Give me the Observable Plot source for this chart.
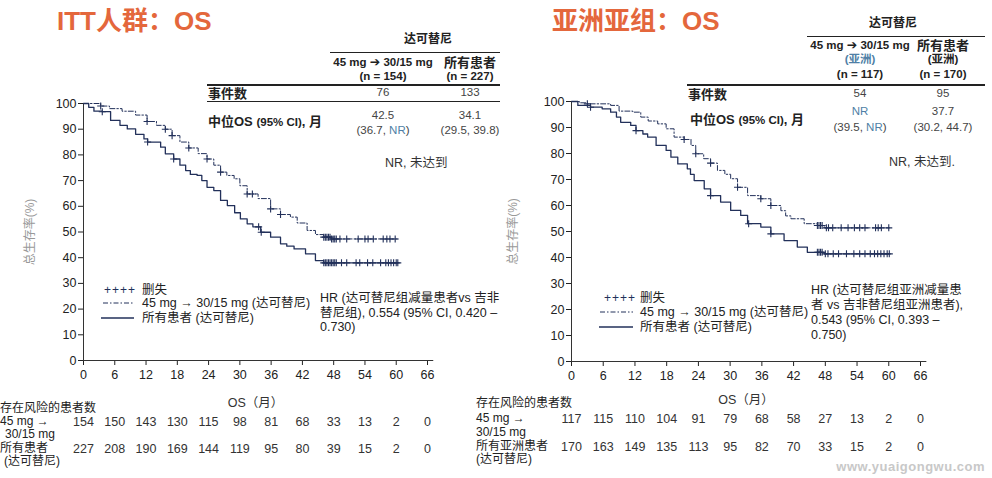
<!DOCTYPE html>
<html><head><meta charset="utf-8">
<script src="https://cdn.jsdelivr.net/npm/d3@7"></script>
<script src="https://cdn.jsdelivr.net/npm/@observablehq/plot@0.6"></script>
<style>
body{margin:0;background:#fff;}
#root{position:relative;width:992px;height:478px;overflow:hidden;font-family:"Liberation Sans",Arial,"Noto Sans CJK SC",sans-serif;color:#222;}
.t{position:absolute;white-space:nowrap;line-height:1;}
.hl{position:absolute;background:#222;}
#root svg{position:absolute;top:0;}
</style></head><body><div id="root"></div>
<script>
// ---------- data ----------
const months = [0,6,12,18,24,30,36,42,48,54,60,66];
const yTicks = [0,10,20,30,40,50,60,70,80,90,100];

// ITT population KM curves [month, survival %]
const ittDose = [[0,100],[3.3,99],[5,98],[7.4,97],[10,95.5],[12.2,93],[14,91.5],[15.7,90],[17,87.5],[18.5,85],[20.2,82.7],[22,80.5],[23.7,78.4],[25,76],[26.3,73.3],[27.5,72],[28.9,70.7],[30,68],[31.4,64.8],[33.5,63],[35.9,59],[37.8,56.8],[39.7,55.8],[41,53.5],[42.9,50.6],[44.5,49],[46.1,48],[47.5,47.3],[60.2,47.3]];
const ittAll = [[0,100],[1,98.5],[2,97],[3.6,96.8],[5.2,93.4],[7,91.5],[8.4,90.1],[10,88],[11.6,86.2],[12.3,85],[14.8,83],[15.7,80.4],[17.3,78.4],[18.5,76],[19.6,73.9],[20.5,72.4],[21.8,72],[22.7,70],[23.7,67.4],[25,66.1],[26.3,62.3],[27.6,60.3],[29,57.5],[30.1,55.1],[31.4,53.2],[32.5,52],[34,49.9],[35.9,48],[37.8,45.4],[39,44.5],[40.4,43.4],[42.6,41.5],[44.5,38.9],[46.1,38],[60.3,38]];
const ittDoseCensor = [3.3,12.2,15.7,17,20.2,23.7,26.3,31.4,32.4,35.9,37.8,46.1,46.4,46.7,47,47.3,47.6,47.9,48.2,48.5,49.2,50.5,52.7,54,54.6,55.6,57.5,58.2,58.8,59.8];
const ittAllCensor = [3.6,12.3,17.3,33.6,34.1,46.1,46.4,46.7,47,47.3,47.6,47.9,48.2,48.5,49.5,50.5,52.3,53,54.5,55.5,57,58,58.5,59,59.5,60,60.3];
const ittRiskDose = [154,150,143,130,115,98,81,68,33,13,2,0];
const ittRiskAll  = [227,208,190,169,144,119,95,80,39,15,2,0];

// Asian subgroup KM curves
const asiaDose = [[0,100],[1.5,99.5],[3,99.1],[7.4,98.5],[9,96.3],[11.6,95.9],[13.1,94],[14.5,92.5],[16.3,91.4],[17.9,89.5],[19.4,86.3],[21.3,85.4],[22.6,83.1],[23.5,79.9],[25,78],[26.3,76.3],[27.6,73.5],[29,72],[30.1,70.3],[31.4,67],[33.3,63.8],[35.8,62.6],[37.7,60],[39.6,58],[40.5,56],[41.5,54.9],[44,53],[46.5,52.3],[47.8,51.4],[60.1,51.4]];
const asiaAll = [[0,100],[1.2,98.5],[3.6,97.8],[5.8,97.2],[7.4,95.9],[8.5,94],[9.3,92],[11.2,90.8],[12.2,88.8],[13.5,87.5],[14.4,86.3],[16,83.1],[17.9,81.2],[18.8,78.6],[20.1,76],[21.9,74.1],[22.5,72],[23.2,69.6],[25.1,66.4],[26.3,63.8],[28.2,61.3],[30.1,58.1],[32,56.2],[33.3,53],[35.8,51.7],[37.7,49.1],[40.2,46.5],[42.7,44],[44.6,42],[47.8,41.4],[60.1,41.4]];
const asiaDoseCensor = [3,21.3,23.5,26.3,31.4,35.8,37.7,46.5,46.8,47.1,47.4,48.2,48.6,49.4,51,52.3,53.5,54.5,55.5,57.5,58,58.6,60];
const asiaAllCensor = [3.6,12.2,26.3,33.5,37.7,46.5,46.8,47.1,47.4,48,48.5,49.5,50.5,52,53.4,54.5,55.5,56.5,57.3,57.9,58.5,59.1,59.7,60.1];
const asiaRiskDose = [117,115,110,104,91,79,68,58,27,13,2,0];
const asiaRiskAll  = [170,163,149,135,113,95,82,70,33,15,2,0];

// summary tables
const ittEvents = ["76","133"];
const ittMedian = ["42.5","34.1"];
const ittCI = [["36.7","NR"],["29.5","39.8"]];
const asiaEvents = ["54","95"];
const asiaMedian = ["NR","37.7"];
const asiaCI = [["39.5","NR"],["30.2","44.7"]];

// ---------- helpers ----------
const navy = "#22305a";
const FONT = '"Liberation Sans",Arial,"Noto Sans CJK SC",sans-serif';
const root = document.getElementById("root");
const toRows = a => a.map(([t,s]) => ({t,s}));
const survAt = (curve,t) => { let s = curve[0][1]; for (const [ti,si] of curve) if (ti <= t) s = si; return s; };
const censorRows = (curve, times) => times.map(t => ({t, s: survAt(curve,t)}));
const riskRows = vals => vals.map((n,i) => ({t: months[i], n}));

function panel({w, left, ml, mr, mt, mb, dose, all, cDose, cAll, r1, r2, dy1, dy2, xlDy, ylDx}) {
  const svg = Plot.plot({
    width: w, height: 478, marginLeft: ml, marginRight: mr, marginTop: mt, marginBottom: mb,
    x: {domain: [0,66]},
    y: {domain: [0,100]},
    style: {fontFamily: FONT, fontSize: "12px", color: "#222", background: "transparent", overflow: "visible"},
    marks: [
      Plot.axisY(yTicks, {tickSize: 5, tickPadding: 2, label: null, fontSize: 12.5}),
      Plot.axisX(months, {tickSize: 5, tickPadding: 5, label: null, fontSize: 12.5}),
      Plot.ruleX([0], {y1: 0, y2: 100, stroke: "#333"}),
      Plot.ruleY([0], {x1: 0, x2: 67.2, stroke: "#333"}),
      Plot.line(toRows(dose), {x: "t", y: "s", curve: "step-after", stroke: navy, strokeWidth: 1, strokeDasharray: "5,2,1.5,2"}),
      Plot.line(toRows(all), {x: "t", y: "s", curve: "step-after", stroke: navy, strokeWidth: 1.3}),
      Plot.dot(censorRows(dose, cDose), {x: "t", y: "s", symbol: "plus", r: 2.4, stroke: navy, strokeWidth: 1.1}),
      Plot.dot(censorRows(all, cAll), {x: "t", y: "s", symbol: "plus", r: 2.4, stroke: navy, strokeWidth: 1.1}),
      Plot.text(riskRows(r1), {x: "t", text: "n", frameAnchor: "bottom", lineAnchor: "middle", dy: dy1, fontSize: 12.5, fill: "#333"}),
      Plot.text(riskRows(r2), {x: "t", text: "n", frameAnchor: "bottom", lineAnchor: "middle", dy: dy2, fontSize: 12.5, fill: "#333"}),
      Plot.text(["OS（月）"], {frameAnchor: "bottom", lineAnchor: "middle", textAnchor: "middle", dy: xlDy, fontSize: 12.5, fill: "#333"}),
      Plot.text(["总生存率(%)"], {frameAnchor: "left", lineAnchor: "middle", textAnchor: "middle", dx: ylDx, rotate: -90, fontSize: 12, fill: "#999"})
    ]
  });
  svg.style.left = left + "px";
  root.appendChild(svg);
}

function put(x, y, html, o = {}) {
  const d = document.createElement("div");
  d.className = "t";
  d.innerHTML = html;
  const ax = o.anchor === "middle" ? "-50%" : o.anchor === "end" ? "-100%" : "0";
  d.style.cssText = `left:${x}px;top:${y}px;transform:translate(${ax},-50%);font-size:${o.size||12}px;font-weight:${o.weight||"normal"};color:${o.color||"#222"};` + (o.css||"");
  root.appendChild(d);
  return d;
}
function hline(x1, x2, y, h = 1) {
  const d = document.createElement("div");
  d.className = "hl";
  d.style.cssText = `left:${x1}px;top:${y}px;width:${x2-x1}px;height:${h}px;`;
  root.appendChild(d);
}
function legendLine(x1, x2, y, dash) {
  const ns = "http://www.w3.org/2000/svg";
  const s = document.createElementNS(ns, "svg");
  s.setAttribute("width", x2 - x1); s.setAttribute("height", 4);
  s.style.cssText = `position:absolute;left:${x1}px;top:${y-2}px;`;
  const l = document.createElementNS(ns, "line");
  l.setAttribute("x1", 0); l.setAttribute("x2", x2 - x1); l.setAttribute("y1", 2); l.setAttribute("y2", 2);
  l.setAttribute("stroke", navy); l.setAttribute("stroke-width", dash ? 1 : 1.3);
  if (dash) l.setAttribute("stroke-dasharray", "5,2,1.5,2");
  s.appendChild(l);
  root.appendChild(s);
}

// ---------- panels ----------
panel({w: 490, left: 0, ml: 83, mr: 63, mt: 103, mb: 118, dose: ittDose, all: ittAll, cDose: ittDoseCensor, cAll: ittAllCensor,
       r1: ittRiskDose, r2: ittRiskAll, dy1: 61, dy2: 88, xlDy: 42, ylDx: -53});
panel({w: 502, left: 490, ml: 81, mr: 72, mt: 101, mb: 117, dose: asiaDose, all: asiaAll, cDose: asiaDoseCensor, cAll: asiaAllCensor,
       r1: asiaRiskDose, r2: asiaRiskAll, dy1: 57, dy2: 85, xlDy: 38, ylDx: -58});

const orange = "#E4673C", blue = "#4f7fa6", grey = "#444";
const ARROW = "<span style=\"font-family:'DejaVu Sans';font-size:12.5px\">➔</span>";

// titles
put(57, 21, "ITT人群：OS", {size: 26, weight: "bold", color: orange});
put(552, 21, "亚洲亚组：OS", {size: 26, weight: "bold", color: orange});

// left table
put(428, 39, "达可替尼", {anchor: "middle", weight: "bold", size: 12});
hline(330, 500, 52);
put(383, 62, `45 mg ${ARROW} 30/15 mg`, {anchor: "middle", weight: "bold", size: 11.5});
put(383, 77, "(n = 154)", {anchor: "middle", weight: "bold", size: 11.5});
put(470, 62, "所有患者", {anchor: "middle", weight: "bold", size: 13});
put(470, 77, "(n = 227)", {anchor: "middle", weight: "bold", size: 11.5});
hline(207, 500, 84, 2);
put(208, 93, "事件数", {weight: "bold", size: 13});
put(383, 93, ittEvents[0], {anchor: "middle", size: 11.5, color: grey});
put(470, 93, ittEvents[1], {anchor: "middle", size: 11.5, color: grey});
hline(207, 500, 101);
put(208, 122, "中位OS <span style='font-size:11.5px'>(95% CI)</span>, 月", {weight: "bold", size: 13});
put(383, 116, ittMedian[0], {anchor: "middle", size: 11.5, color: grey});
put(383, 131, `(${ittCI[0][0]}, <span style="color:${blue}">${ittCI[0][1]}</span>)`, {anchor: "middle", size: 11.5, color: grey});
put(470, 116, ittMedian[1], {anchor: "middle", size: 11.5, color: grey});
put(470, 131, `(${ittCI[1][0]}, ${ittCI[1][1]})`, {anchor: "middle", size: 11.5, color: grey});
put(385, 163, "NR, 未达到", {size: 12.5, color: "#333"});

// right table
put(893, 23, "达可替尼", {anchor: "middle", weight: "bold", size: 12});
hline(807, 985, 36);
put(860, 45, `45 mg ${ARROW} 30/15 mg`, {anchor: "middle", weight: "bold", size: 11.5});
put(860, 60, "(亚洲)", {anchor: "middle", weight: "bold", size: 11.5, color: blue});
put(860, 75, "(n = 117)", {anchor: "middle", weight: "bold", size: 11.5});
put(943, 45, "所有患者", {anchor: "middle", weight: "bold", size: 13});
put(943, 60, "(亚洲)", {anchor: "middle", weight: "bold", size: 11.5});
put(943, 75, "(n = 170)", {anchor: "middle", weight: "bold", size: 11.5});
hline(687, 985, 84, 2);
put(688, 94, "事件数", {weight: "bold", size: 13});
put(860, 94, asiaEvents[0], {anchor: "middle", size: 11.5, color: grey});
put(943, 94, asiaEvents[1], {anchor: "middle", size: 11.5, color: grey});
put(690, 120, "中位OS <span style='font-size:11.5px'>(95% CI)</span>, 月", {weight: "bold", size: 13});
put(860, 112, `<span style="color:${blue}">${asiaMedian[0]}</span>`, {anchor: "middle", size: 11.5, color: grey});
put(860, 128, `(${asiaCI[0][0]}, <span style="color:${blue}">${asiaCI[0][1]}</span>)`, {anchor: "middle", size: 11.5, color: grey});
put(943, 112, asiaMedian[1], {anchor: "middle", size: 11.5, color: grey});
put(943, 128, `(${asiaCI[1][0]}, ${asiaCI[1][1]})`, {anchor: "middle", size: 11.5, color: grey});
put(889, 162, "NR, 未达到.", {size: 12.5, color: "#333"});

// legends
put(104, 290, "++++", {size: 12, color: navy, css: "letter-spacing:1px;"});
put(142, 290, "删失", {size: 12.5});
legendLine(103, 134, 303, true);
put(142, 303, "45 mg → 30/15 mg (达可替尼)", {size: 12.5});
legendLine(101, 134, 318, false);
put(142, 318, "所有患者 (达可替尼)", {size: 12.5});
put(320, 298, "HR (达可替尼组减量患者vs 吉非", {size: 12.5});
put(320, 313, "替尼组), 0.554 (95% CI, 0.420 –", {size: 12.5});
put(320, 327, "0.730)", {size: 12.5});

put(604, 298, "++++", {size: 12, color: navy, css: "letter-spacing:1px;"});
put(640, 298, "删失", {size: 12.5});
legendLine(600, 633, 312, true);
put(640, 312, "45 mg → 30/15 mg (达可替尼)", {size: 12.5});
legendLine(599, 633, 327, false);
put(640, 327, "所有患者 (达可替尼)", {size: 12.5});
put(811, 290, "HR (达可替尼组亚洲减量患", {size: 12.5});
put(811, 305, "者 vs 吉非替尼组亚洲患者),", {size: 12.5});
put(811, 320, "0.543 (95% CI, 0.393 –", {size: 12.5});
put(811, 335, "0.750)", {size: 12.5});

// risk table labels
put(0, 408, "存在风险的患者数", {size: 12});
put(0, 421, "45 mg →", {size: 12});
put(5, 434, "30/15 mg", {size: 12});
put(0, 448, "所有患者", {size: 12});
put(4, 461, "(达可替尼)", {size: 12});

put(476, 403, "存在风险的患者数", {size: 12});
put(476, 418, "45 mg →", {size: 12});
put(476, 432, "30/15 mg", {size: 12});
put(476, 446, "所有亚洲患者", {size: 12});
put(476, 459, "(达可替尼)", {size: 12});

// watermark
put(985, 466, "www.yuaigongwu.com", {anchor: "end", size: 13, weight: "bold", color: "#c8c8c8", css: "letter-spacing:0.5px;"});
</script></body></html>
